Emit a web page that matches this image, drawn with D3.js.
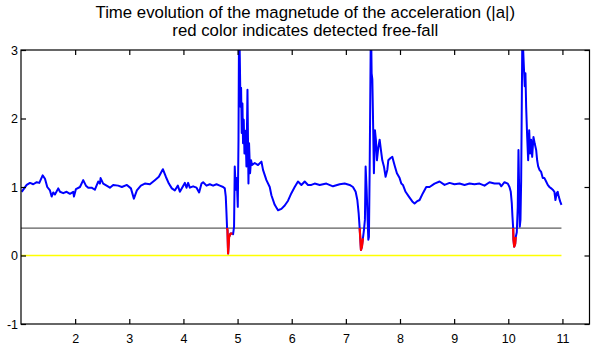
<!DOCTYPE html>
<html>
<head>
<meta charset="utf-8">
<script src="https://cdn.jsdelivr.net/npm/d3@7"></script>
<style>
  html, body { margin: 0; padding: 0; background: #fff; }
  svg { display: block; font-family: "Liberation Sans", Arial, Helvetica, sans-serif; }
</style>
</head>
<body>
<svg id="chart" width="600" height="350"></svg>
<script>
// Sample times (s) of the acceleration magnitude trace
const time = [
  1.013, 1.105, 1.166, 1.227, 1.290, 1.338, 1.400, 1.443, 1.485, 1.535, 1.566, 1.596, 1.627, 1.688, 1.720,
  1.780, 1.843, 1.904, 1.965, 1.978, 2.015, 2.089, 2.149, 2.199, 2.242, 2.304, 2.365, 2.426, 2.458, 2.470,
  2.518, 2.581, 2.642, 2.703, 2.795, 2.863, 2.956, 3.030, 3.085, 3.140, 3.214, 3.288, 3.380, 3.472, 3.546,
  3.620, 3.675, 3.731, 3.786, 3.841, 3.897, 3.934, 4.026, 4.057, 4.087, 4.118, 4.179, 4.242, 4.290, 4.334,
  4.364, 4.426, 4.487, 4.548, 4.611, 4.672, 4.733, 4.764, 4.782, 4.795, 4.806, 4.814, 4.825, 4.843, 4.869,
  4.906, 4.917, 4.935, 4.948, 4.967, 4.985, 5.004, 5.017, 5.028, 5.041, 5.054, 5.065, 5.077, 5.090, 5.101,
  5.114, 5.127, 5.146, 5.164, 5.183, 5.201, 5.212, 5.231, 5.249, 5.268, 5.317, 5.378, 5.441, 5.470, 5.533,
  5.594, 5.625, 5.686, 5.747, 5.810, 5.871, 5.932, 5.994, 6.055, 6.116, 6.179, 6.240, 6.301, 6.363, 6.424,
  6.517, 6.640, 6.762, 6.886, 6.978, 7.070, 7.131, 7.181, 7.212, 7.236, 7.255, 7.268, 7.279, 7.297, 7.315,
  7.334, 7.352, 7.365, 7.384, 7.402, 7.415, 7.426, 7.439, 7.452, 7.463, 7.476, 7.489, 7.500, 7.518, 7.537,
  7.555, 7.574, 7.600, 7.624, 7.648, 7.673, 7.703, 7.734, 7.766, 7.784, 7.821, 7.858, 7.882, 7.906, 7.943,
  7.993, 8.024, 8.054, 8.103, 8.164, 8.227, 8.269, 8.312, 8.362, 8.423, 8.485, 8.546, 8.638, 8.731, 8.823,
  8.915, 9.007, 9.100, 9.192, 9.284, 9.376, 9.469, 9.561, 9.653, 9.745, 9.838, 9.869, 9.930, 9.991, 10.022,
  10.046, 10.065, 10.077, 10.090, 10.096, 10.109, 10.127, 10.138, 10.157, 10.175, 10.188, 10.201, 10.212, 10.225, 10.238,
  10.249, 10.262, 10.275, 10.293, 10.304, 10.317, 10.330, 10.349, 10.367, 10.386, 10.404, 10.422, 10.441, 10.465, 10.489,
  10.515, 10.533, 10.552, 10.576, 10.607, 10.637, 10.668, 10.699, 10.729, 10.760, 10.792, 10.821, 10.852, 10.871, 10.895,
  10.913, 10.932, 10.958, 10.982
];

// |a| in g at each sample time
const accel = [
  0.93, 1.03, 1.06, 1.04, 1.07, 1.06, 1.17, 1.12, 1.00, 0.95, 0.86, 0.92, 0.89, 0.98, 0.93,
  0.91, 0.93, 0.90, 0.93, 0.86, 0.97, 1.00, 1.10, 1.02, 0.99, 0.99, 0.96, 1.08, 1.05, 1.13,
  1.05, 1.02, 0.99, 1.03, 1.02, 1.00, 1.03, 0.98, 0.83, 0.95, 1.02, 1.05, 1.04, 1.10, 1.15,
  1.26, 1.15, 1.05, 0.98, 0.95, 1.02, 0.93, 1.06, 0.99, 1.06, 0.99, 1.01, 0.99, 0.92, 1.05,
  1.07, 1.02, 1.04, 1.02, 1.04, 1.02, 1.00, 0.98, 0.86, 0.62, 0.40, 0.37, 0.03, 0.27, 0.32,
  0.32, 0.31, 0.42, 1.30, 0.96, 1.13, 0.71, 1.69, 3.50, 2.90, 2.17, 2.45, 1.79, 2.22, 1.64,
  1.98, 1.49, 1.82, 1.30, 2.42, 1.05, 1.64, 1.20, 1.39, 1.32, 1.35, 1.32, 1.37, 1.25, 1.10,
  1.00, 0.88, 0.74, 0.66, 0.68, 0.73, 0.80, 0.91, 1.00, 1.08, 1.03, 1.08, 1.03, 1.03, 1.05,
  1.03, 1.05, 1.01, 1.04, 1.05, 1.03, 1.00, 0.93, 0.81, 0.62, 0.40, 0.23, 0.08, 0.13, 0.25,
  0.37, 0.52, 1.30, 0.96, 0.52, 0.23, 0.27, 1.20, 2.42, 3.50, 2.66, 2.57, 2.08, 1.20, 1.83,
  1.69, 1.39, 1.58, 1.69, 1.54, 1.39, 1.30, 1.15, 1.25, 1.39, 1.42, 1.44, 1.37, 1.30, 1.20,
  1.13, 1.05, 1.03, 0.93, 0.86, 0.79, 0.76, 0.79, 0.81, 0.91, 1.00, 1.00, 1.05, 1.08, 1.03,
  1.06, 1.04, 1.05, 1.03, 1.05, 1.04, 1.05, 1.02, 1.07, 1.05, 1.05, 1.01, 1.07, 1.05, 1.00,
  0.93, 0.76, 0.57, 0.40, 0.23, 0.13, 0.17, 0.27, 0.34, 0.71, 1.54, 0.96, 0.42, 0.52, 1.10,
  2.17, 3.50, 3.00, 2.66, 2.47, 2.66, 2.17, 1.73, 1.39, 1.83, 1.49, 1.69, 1.44, 1.73, 1.63,
  1.54, 1.39, 1.30, 1.25, 1.22, 1.13, 1.13, 1.08, 1.03, 1.00, 0.98, 0.96, 0.93, 0.81, 0.91,
  0.93, 0.86, 0.79, 0.74
];

// Detected free-fall windows (s)
const fallStart = [4.806, 7.255, 10.090];
const fallEnd = [4.906, 7.315, 10.138];

// Free-fall threshold and zero reference (g)
const threshold = 0.4;
const refStart = 1.0, refEnd = 10.982;

const xTicks = [2, 3, 4, 5, 6, 7, 8, 9, 10, 11];
const yTicks = [-1, 0, 1, 2, 3];

const titleLines = [
  "Time evolution of the magnetude of the acceleration (|a|)",
  "red color indicates detected free-fall"
];

const svg = d3.select("#chart");
const plotLeft = 21, plotRight = 589.5, plotTop = 50, plotBottom = 324;

const x = d3.scaleLinear().domain([1, 11.5]).range([plotLeft, plotRight]);
const y = d3.scaleLinear().domain([-1, 3]).range([plotBottom, plotTop]);

const points = time.map((t, i) => ({ t, v: accel[i] }));

svg.append("defs").append("clipPath").attr("id", "plotArea")
  .append("rect")
  .attr("x", plotLeft).attr("y", plotTop)
  .attr("width", plotRight - plotLeft).attr("height", plotBottom - plotTop);

const plot = svg.append("g").attr("clip-path", "url(#plotArea)");

const line = d3.line().x(d => x(d.t)).y(d => y(d.v));

// zero reference
plot.append("path")
  .datum([{ t: refStart, v: 0 }, { t: refEnd, v: 0 }])
  .attr("d", line)
  .attr("fill", "none").attr("stroke", "#ffff00").attr("stroke-width", 1.5);

// threshold line
plot.append("path")
  .datum([{ t: refStart, v: threshold }, { t: refEnd, v: threshold }])
  .attr("d", line)
  .attr("fill", "none").attr("stroke", "#000").attr("stroke-width", 0.8);

// acceleration magnitude
plot.append("path")
  .datum(points)
  .attr("d", line)
  .attr("fill", "none").attr("stroke", "#0000ff").attr("stroke-width", 2)
  .attr("stroke-linejoin", "round");

// free-fall segments
fallStart.forEach((s, k) => {
  const seg = points.filter(p => p.t >= s && p.t <= fallEnd[k]);
  plot.append("path")
    .datum(seg)
    .attr("d", line)
    .attr("fill", "none").attr("stroke", "#ff0000").attr("stroke-width", 2.2)
    .attr("stroke-linejoin", "round");
});

// axes box
svg.append("rect")
  .attr("x", plotLeft).attr("y", plotTop)
  .attr("width", plotRight - plotLeft).attr("height", plotBottom - plotTop)
  .attr("fill", "none").attr("stroke", "#000").attr("stroke-width", 1.2);

const tickLen = 5;
const plain = d => String(d);
const axisBottom = d3.axisBottom(x).tickValues(xTicks).tickSizeInner(-tickLen).tickSizeOuter(0).tickPadding(10).tickFormat(plain);
const axisTop = d3.axisTop(x).tickValues(xTicks).tickSizeInner(-tickLen).tickSizeOuter(0).tickFormat("");
const axisLeft = d3.axisLeft(y).tickValues(yTicks).tickSizeInner(-tickLen).tickSizeOuter(0).tickPadding(3).tickFormat(plain);
const axisRight = d3.axisRight(y).tickValues(yTicks).tickSizeInner(-tickLen).tickSizeOuter(0).tickFormat("");

function style(g) {
  g.select(".domain").remove();
  g.selectAll(".tick line").attr("stroke", "#000").attr("stroke-width", 1.2);
  g.selectAll(".tick text").attr("fill", "#000")
    .style("font-size", "12.5px")
    .style("font-family", "'Liberation Sans', Arial, Helvetica, sans-serif");
}

svg.append("g").attr("transform", `translate(0,${plotBottom})`).call(axisBottom).call(style);
svg.append("g").attr("transform", `translate(0,${plotTop})`).call(axisTop).call(style);
svg.append("g").attr("transform", `translate(${plotLeft},0)`).call(axisLeft).call(style);
svg.append("g").attr("transform", `translate(${plotRight},0)`).call(axisRight).call(style);

// title
svg.append("g").selectAll("text")
  .data(titleLines)
  .join("text")
  .attr("x", (plotLeft + plotRight) / 2)
  .attr("y", (d, i) => 18 + i * 18)
  .attr("text-anchor", "middle")
  .style("font-size", "16.8px")
  .attr("fill", "#000")
  .text(d => d);
</script>
</body>
</html>
